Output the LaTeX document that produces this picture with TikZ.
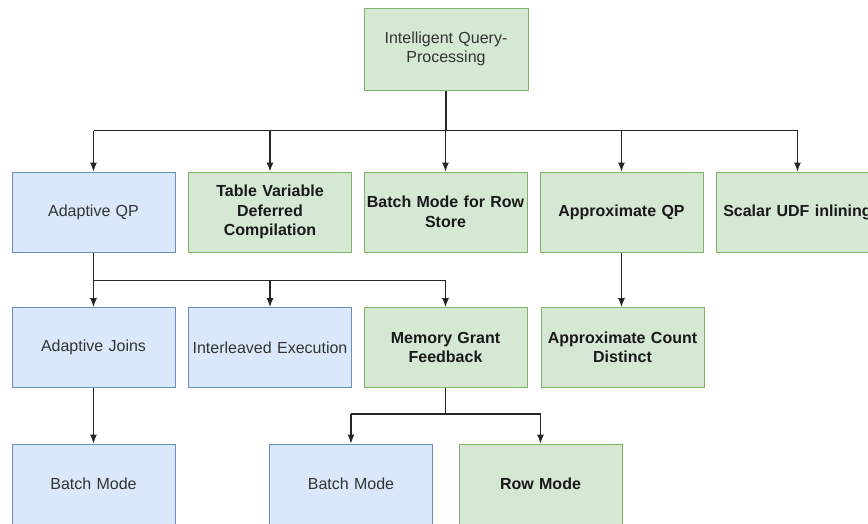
\documentclass[tikz,border=0pt]{standalone}
\usepackage{fontspec}
\setmainfont{Liberation Sans}
\usetikzlibrary{arrows.meta}

\definecolor{greenfill}{HTML}{D5E8D4}
\definecolor{greenline}{HTML}{82B366}
\definecolor{bluefill}{HTML}{DAE8FC}
\definecolor{blueline}{HTML}{6C8EBF}

\begin{document}
\begin{tikzpicture}[x=1pt, y=-1pt,
    box/.style={rectangle, minimum width=163pt, minimum height=80pt, text width=160pt,
      align=center, line width=1pt, text=black!80, inner xsep=1pt,
      font=\fontsize{16}{19.5}\selectfont},
    greenbox/.style={box, draw=greenline, fill=greenfill},
    bluebox/.style={box, draw=blueline, fill=bluefill},
    boldbox/.style={greenbox, text=black!90, font=\fontsize{16}{19.5}\selectfont\bfseries},
    conn/.style={-{Latex[length=9pt,width=7pt]}, line width=1.1pt, draw=black!85},
    line/.style={line width=1.1pt, draw=black!85}]

      \useasboundingbox (0,0) rectangle (868,523);

      \node[greenbox, minimum width=164pt, minimum height=82pt] (iqp) at (446,49) {Intelligent Query-\\Processing}; % root

      % first level
      \node[bluebox] (aqp) at (93.5,212) {Adaptive QP};
      \node[boldbox] (tvdc) at (270,212) {Table Variable\\Deferred\\Compilation};
      \node[boldbox] (bmrs) at (445.5,212) {Batch Mode for Row\\Store};
      \node[boldbox] (apqp) at (621.5,212) {Approximate QP};
      \node[boldbox] (udf) at (797.5,212) {Scalar UDF inlining};

      % second level
      \node[bluebox] (ajoin) at (93.5,347.5) {Adaptive Joins};
      \node[bluebox] (iexec) at (270,347.5) {Interleaved Execution};
      \node[boldbox] (mgf) at (445.5,347.5) {Memory Grant\\Feedback};
      \node[boldbox] (acd) at (622.5,347.5) {Approximate Count\\Distinct};

      % third level
      \node[bluebox] (bm1) at (93.5,484) {Batch Mode};
      \node[bluebox] (bm2) at (351,484) {Batch Mode};
      \node[boldbox] (rmode) at (540.5,484) {Row Mode};

      \draw[line] (iqp.south) -- ++(0,40) coordinate (s1);
      \draw[line] (aqp.north |- s1) -- (udf.north |- s1);
      \foreach \n in {aqp,tvdc,bmrs,apqp,udf} {
          \draw[conn] (\n.north |- s1) -- (\n.north);
      }

      \draw[line] (aqp.south) -- ++(0,28) coordinate (s2);
      \draw[line] (s2) -- (mgf.north |- s2);
      \foreach \n in {ajoin,iexec,mgf} {
          \draw[conn] (\n.north |- s2) -- (\n.north);
      }

      \draw[conn] (apqp.south) -- (apqp.south |- acd.north);
      \draw[conn] (ajoin.south) -- (bm1.north);

      \draw[line] (mgf.south) -- ++(0,26) coordinate (s3);
      \draw[line] (bm2.north |- s3) -- (rmode.north |- s3);
      \foreach \n in {bm2,rmode} {
          \draw[conn] (\n.north |- s3) -- (\n.north);
      }

\end{tikzpicture}
\end{document}
